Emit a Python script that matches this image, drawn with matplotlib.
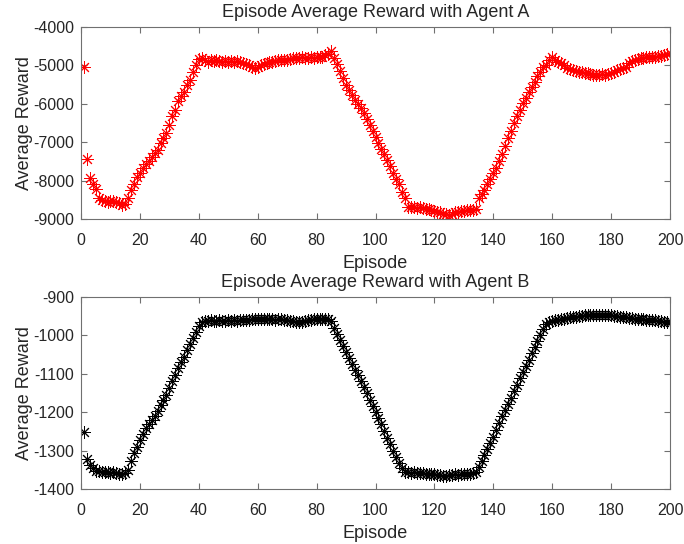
import numpy as np
import matplotlib
matplotlib.use("Agg")
import matplotlib.pyplot as plt

plt.rcParams['font.family'] = ['Liberation Sans', 'DejaVu Sans']
plt.rcParams['axes.unicode_minus'] = False

# episode numbers 1..200
episodes = list(range(1, 201))

# Agent A average reward per episode
reward_a = [
    -5030, -7450, -7940, -8080, -8220, -8450, -8500, -8530, -8560, -8540,
    -8520, -8560, -8580, -8640, -8620, -8460, -8250, -8080, -7900, -7800,
    -7680, -7580, -7500, -7390, -7280, -7200, -7020, -6900, -6750, -6540,
    -6330, -6150, -5920, -5800, -5680, -5500, -5370, -5180, -4990, -4830,
    -4800, -4860, -4900, -4870, -4880, -4860, -4890, -4900, -4890, -4900,
    -4880, -4910, -4890, -4900, -4930, -4960, -4990, -5040, -5080, -5040,
    -5000, -4970, -4940, -4920, -4900, -4880, -4870, -4860, -4870, -4850,
    -4830, -4820, -4810, -4800, -4790, -4810, -4800, -4790, -4800, -4780,
    -4790, -4770, -4740, -4700, -4620, -4800, -4960, -5150, -5330, -5500,
    -5650, -5780, -5900, -6000, -6120, -6250, -6400, -6550, -6720, -6870,
    -7020, -7170, -7320, -7470, -7630, -7800, -7950, -8100, -8300, -8450,
    -8680, -8690, -8700, -8710, -8700, -8720, -8740, -8750, -8760, -8790,
    -8810, -8830, -8860, -8880, -8900, -8870, -8830, -8810, -8790, -8780,
    -8770, -8760, -8760, -8740, -8450, -8350, -8250, -8080, -7960, -7800,
    -7680, -7480, -7300, -7100, -6900, -6700, -6500, -6320, -6160, -5990,
    -5850, -5700, -5560, -5420, -5280, -5160, -5050, -4980, -4850, -4790,
    -4870, -4910, -4950, -5000, -5060, -5090, -5110, -5150, -5170, -5180,
    -5200, -5210, -5230, -5240, -5250, -5240, -5230, -5240, -5230, -5200,
    -5170, -5130, -5100, -5060, -5030, -4950, -4890, -4850, -4830, -4810,
    -4800, -4790, -4790, -4780, -4770, -4760, -4750, -4720, -4700, -4680,
]

# Agent B average reward per episode
reward_b = [
    -1252, -1322, -1338, -1346, -1352, -1354, -1356, -1355, -1357, -1358,
    -1356, -1358, -1360, -1361, -1358, -1350, -1328, -1306, -1290, -1272,
    -1256, -1242, -1230, -1220, -1210, -1198, -1182, -1168, -1154, -1138,
    -1120, -1103, -1086, -1070, -1055, -1038, -1022, -1008, -992, -975,
    -964, -962, -962, -961, -962, -962, -961, -962, -963, -961,
    -962, -961, -962, -961, -960, -960, -959, -958, -958, -957,
    -958, -957, -958, -957, -958, -959, -958, -958, -960, -961,
    -962, -963, -964, -965, -966, -963, -961, -959, -958, -957,
    -957, -958, -957, -958, -962, -980, -996, -1012, -1028, -1043,
    -1058, -1074, -1089, -1104, -1120, -1135, -1151, -1167, -1184, -1200,
    -1216, -1232, -1249, -1266, -1283, -1300, -1316, -1331, -1345, -1355,
    -1357, -1358, -1357, -1358, -1359, -1358, -1360, -1361, -1360, -1362,
    -1363, -1364, -1365, -1366, -1364, -1363, -1362, -1363, -1362, -1361,
    -1360, -1360, -1358, -1356, -1344, -1328, -1312, -1296, -1280, -1264,
    -1246, -1228, -1210, -1194, -1178, -1162, -1144, -1128, -1112, -1096,
    -1080, -1063, -1046, -1030, -1014, -998, -983, -970, -964, -962,
    -961, -959, -957, -956, -955, -953, -952, -951, -950, -949,
    -948, -948, -947, -947, -946, -946, -947, -947, -948, -948,
    -949, -950, -951, -952, -953, -954, -955, -956, -957, -957,
    -958, -959, -960, -960, -961, -962, -963, -964, -965, -966,
]

titles = ["Episode Average Reward with Agent A", "Episode Average Reward with Agent B"]
ylims = [(-9000, -4000), (-1400, -900)]
ystep = [1000, 100]
colors = ["red", "black"]
series = [reward_a, reward_b]

fig = plt.figure(figsize=(6.84, 5.44), dpi=100)
boxes = [[81/684, 1-219/544, 589/684, 192/544],
         [81/684, 1-489/544, 589/684, 192/544]]

axcol = "#707070"
txtcol = "#262626"
for box, ys, col, title, yl, st in zip(boxes, series, colors, titles, ylims, ystep):
    ax = fig.add_axes(box)
    # MATLAB-style asterisk marker (4 crossing strokes)
    ax.plot(episodes, ys, linestyle="none", marker=(8, 2, 0), color=col,
            markersize=9, markeredgewidth=0.7)
    ax.set_xlim(0, 200)
    ax.set_ylim(*yl)
    ax.set_xticks(np.arange(0, 201, 20))
    ax.set_yticks(np.arange(yl[0], yl[1] + 1, st))
    ax.set_title(title, fontsize=13, color=txtcol, pad=7)
    ax.set_xlabel("Episode", fontsize=13, color=txtcol, labelpad=5)
    ax.set_ylabel("Average Reward", fontsize=13, color=txtcol, labelpad=0)
    ax.tick_params(direction="in", top=True, right=True, length=4, width=0.8,
                   color=axcol, labelsize=11.5, labelcolor=txtcol)
    ax.tick_params(axis="x", pad=10)
    ax.tick_params(axis="y", pad=5)
    for sp in ax.spines.values():
        sp.set_color(axcol)
        sp.set_linewidth(0.8)

fig.savefig("out.png", dpi=100)
